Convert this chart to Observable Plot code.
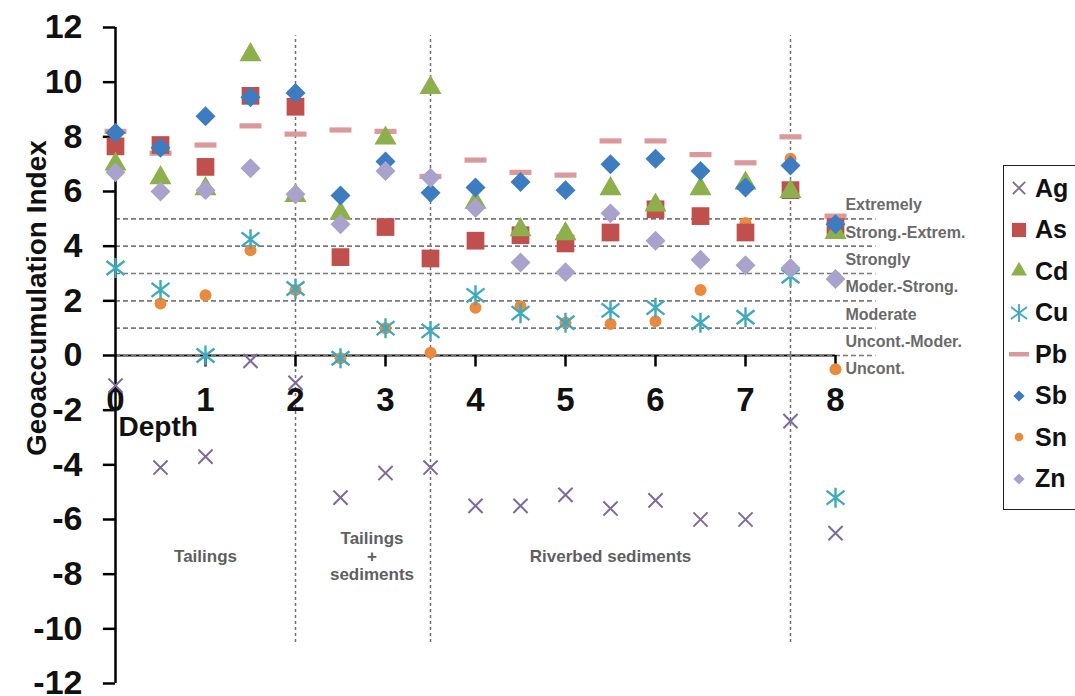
<!DOCTYPE html>
<html>
<head>
<meta charset="utf-8">
<script src="https://cdn.jsdelivr.net/npm/d3@7"></script>
<script src="https://cdn.jsdelivr.net/npm/@observablehq/plot@0.6"></script>
<style>
  html, body { margin: 0; padding: 0; background: #fff; }
  #wrap { position: relative; width: 1075px; height: 696px; overflow: hidden; font-family: "Liberation Sans", Arial, sans-serif; }
  #wrap svg.plot { position: absolute; left: 0; top: 0; }
  #legend { position: absolute; left: 1003px; top: 165px; width: 100px; height: 345px; border: 1.5px solid #222; box-sizing: border-box; background: #fff; }
  .li { position: absolute; left: 4px; height: 30px; display: flex; align-items: center; font-weight: bold; font-size: 25px; color: #111; }
  .li svg { margin-right: 5px; }
</style>
</head>
<body>
<div id="wrap"><div id="legend"></div></div>
<script>
// Depth positions (x categories)
const depth = [0, 0.5, 1, 1.5, 2, 2.5, 3, 3.5, 4, 4.5, 5, 5.5, 6, 6.5, 7, 7.5, 8];
// Geoaccumulation index per element
const Ag = [-1.1, -4.1, -3.7, -0.2, -1.0, -5.2, -4.3, -4.1, -5.5, -5.5, -5.1, -5.6, -5.3, -6.0, -6.0, -2.4, -6.5];
const As = [7.65, 7.7, 6.9, 9.5, 9.1, 3.6, 4.7, 3.55, 4.2, 4.4, 4.1, 4.5, 5.35, 5.1, 4.5, 6.05, 4.7];
const Cd = [7.0, 6.5, 6.1, 11.0, 5.85, 5.2, 7.95, 9.8, 5.6, 4.6, 4.45, 6.1, 5.5, 6.1, 6.3, 6.0, 4.5];
const Cu = [3.2, 2.4, 0.0, 4.25, 2.45, -0.1, 1.0, 0.9, 2.2, 1.55, 1.2, 1.65, 1.75, 1.2, 1.4, 2.9, -5.2];
const Pb = [8.2, 7.4, 7.7, 8.4, 8.1, 8.25, 8.2, 6.55, 7.15, 6.7, 6.6, 7.85, 7.85, 7.35, 7.05, 8.0, 5.1];
const Sb = [8.15, 7.6, 8.75, 9.45, 9.6, 5.85, 7.1, 5.95, 6.15, 6.35, 6.05, 7.0, 7.2, 6.75, 6.15, 6.95, 4.8];
const Sn = [8.1, 1.9, 2.2, 3.85, 2.4, -0.1, 1.0, 0.1, 1.75, 1.8, 1.2, 1.15, 1.25, 2.4, 4.85, 7.2, -0.5];
const Zn = [6.7, 6.0, 6.05, 6.85, 5.9, 4.8, 6.75, 6.5, 5.4, 3.4, 3.05, 5.2, 4.2, 3.5, 3.3, 3.2, 2.8];

const yTicks = [-12, -10, -8, -6, -4, -2, 0, 2, 4, 6, 8, 10, 12];
const xTicks = [0, 1, 2, 3, 4, 5, 6, 7, 8];
const classLines = [1, 2, 3, 4, 5];
const classLabels = ["Extremely", "Strong.-Extrem.", "Strongly", "Moder.-Strong.", "Moderate", "Uncont.-Moder.", "Uncont."];
const classLabelY = [5.5, 4.5, 3.5, 2.5, 1.5, 0.5, -0.5];
const zoneBounds = [2, 3.5, 7.5];
const zoneLabels = ["Tailings", "Tailings\n+\nsediments", "Riverbed sediments"];
const zoneLabelX = [1, 2.85, 5.5];

const dash = { draw(ctx) { ctx.rect(-11, -2.6, 22, 5.2); } };
const star = { draw(ctx) {
  ctx.moveTo(0, -10); ctx.lineTo(0, 10);
  ctx.moveTo(-9, -7); ctx.lineTo(9, 7);
  ctx.moveTo(-9, 7); ctx.lineTo(9, -7);
} };

const series = [
  { name: "Ag", values: Ag, symbol: "times", color: "#7E6A9E", r: 6.5, stroke: true, sw: 2 },
  { name: "As", values: As, symbol: "square", color: "#C0504D", r: 10 },
  { name: "Cd", values: Cd, symbol: "triangle", color: "#8DB04C", r: 8.2 },
  { name: "Cu", values: Cu, symbol: star, color: "#3FA9BE", r: 9, stroke: true, sw: 2.4 },
  { name: "Pb", values: Pb, symbol: dash, color: "#DA9A9C", r: 8 },
  { name: "Sb", values: Sb, symbol: "diamond2", color: "#3D7CC0", r: 9 },
  { name: "Sn", values: Sn, symbol: "circle", color: "#EA8A3E", r: 6 },
  { name: "Zn", values: Zn, symbol: "diamond2", color: "#A9A2CC", r: 9 }
];
const drawOrder = ["Sn", "Pb", "Ag", "As", "Cd", "Cu", "Sb", "Zn"];

function dotMark(s) {
  const rows = depth.map((d, i) => ({ depth: d, value: s.values[i] }));
  return Plot.dot(rows, {
    x: "depth", y: "value", symbol: s.symbol, r: s.r,
    fill: s.stroke ? "none" : s.color,
    stroke: s.stroke ? s.color : "none",
    strokeWidth: s.sw || 0
  });
}

const bold = { fontWeight: "bold" };

const chart = Plot.plot({
  width: 1075,
  height: 696,
  marginLeft: 115,
  marginRight: 240,
  marginTop: 27,
  marginBottom: 13,
  x: { type: "linear", domain: [0, 8], axis: null },
  y: { type: "linear", domain: [-12, 12], axis: null },
  style: { fontFamily: "'Liberation Sans', Arial, sans-serif", background: "white", overflow: "visible" },
  marks: [
    Plot.ruleX(zoneBounds, { y1: -10.5, y2: 11.7, stroke: "#6f6f6f", strokeWidth: 1.5, strokeDasharray: "3,3" }),
    Plot.ruleY([0], { x1: 0, x2: 8, stroke: "#000", strokeWidth: 2.2 }),
    Plot.ruleY(classLines.concat([0]), { x1: 0, x2: 8.45, stroke: "#7a7a7a", strokeWidth: 1.7, strokeDasharray: "5,3" }),
    Plot.ruleX([0], { y1: -12, y2: 12, stroke: "#000", strokeWidth: 2.5 }),
    Plot.ruleX(xTicks.slice(1), { y1: 0, y2: -0.42, stroke: "#000", strokeWidth: 2.5 }),
    Plot.ruleY(yTicks, { x1: -0.135, x2: 0, stroke: "#000", strokeWidth: 2.5 }),
    Plot.text(yTicks, { x: 0, y: d => d, text: d => String(d), dx: -33, textAnchor: "end", fontSize: 34, ...bold, fill: "#111" }),
    Plot.text(xTicks, { x: d => d, y: 0, text: d => String(d), dy: 45, fontSize: 33, ...bold, fill: "#111" }),
    Plot.text(["Depth"], { x: 0, y: 0, dx: 3, dy: 72, text: d => d, textAnchor: "start", fontSize: 28, ...bold, fill: "#111" }),
    Plot.text(["Geoaccumulation Index"], { x: 0, y: 2.1, dx: -78, rotate: -90, text: d => d, fontSize: 28, ...bold, fill: "#111" }),
    Plot.text(classLabels, { x: 8.11, y: (d, i) => classLabelY[i], text: d => d, textAnchor: "start", fontSize: 16, ...bold, fill: "#6a6a6a" }),
    Plot.text(zoneLabels, { x: (d, i) => zoneLabelX[i], y: -7.35, text: d => d, fontSize: 17, ...bold, fill: "#5f5f5f", lineHeight: 1.06 }),
    ...drawOrder.map(n => dotMark(series.find(s => s.name === n)))
  ]
});
chart.classList.add("plot");
document.getElementById("wrap").prepend(chart);

// Legend (HTML), symbols drawn with d3.symbol
const legend = document.getElementById("legend");
const symMap = { times: d3.symbolTimes, square: d3.symbolSquare, triangle: d3.symbolTriangle, diamond2: d3.symbolDiamond2, circle: d3.symbolCircle };
const legendSize = { Ag: 100, As: 200, Cd: 110, Cu: 150, Pb: 0, Sb: 80, Sn: 60, Zn: 80 };
series.forEach((s, i) => {
  const row = document.createElement("div");
  row.className = "li";
  row.style.top = (7 + i * 41.5) + "px";
  const ns = "http://www.w3.org/2000/svg";
  const svg = document.createElementNS(ns, "svg");
  svg.setAttribute("width", 22); svg.setAttribute("height", 22);
  const g = document.createElementNS(ns, "g");
  g.setAttribute("transform", "translate(11,11)");
  if (s.name === "Pb") {
    const r = document.createElementNS(ns, "rect");
    r.setAttribute("x", -10); r.setAttribute("y", -2); r.setAttribute("width", 20); r.setAttribute("height", 4.5); r.setAttribute("fill", s.color);
    g.appendChild(r);
  } else if (s.name === "Cu") {
    const p = document.createElementNS(ns, "path");
    p.setAttribute("d", "M0,-9L0,9M-8,-6L8,6M-8,6L8,-6");
    p.setAttribute("fill", "none"); p.setAttribute("stroke", s.color); p.setAttribute("stroke-width", 1.8);
    g.appendChild(p);
  } else {
    const p = document.createElementNS(ns, "path");
    p.setAttribute("d", d3.symbol(symMap[s.symbol], legendSize[s.name])());
    if (s.stroke) { p.setAttribute("fill", "none"); p.setAttribute("stroke", s.color); p.setAttribute("stroke-width", 1.8); }
    else p.setAttribute("fill", s.color);
    g.appendChild(p);
  }
  svg.appendChild(g);
  row.appendChild(svg);
  const t = document.createElement("span");
  t.textContent = s.name;
  row.appendChild(t);
  legend.appendChild(row);
});
</script>
</body>
</html>
